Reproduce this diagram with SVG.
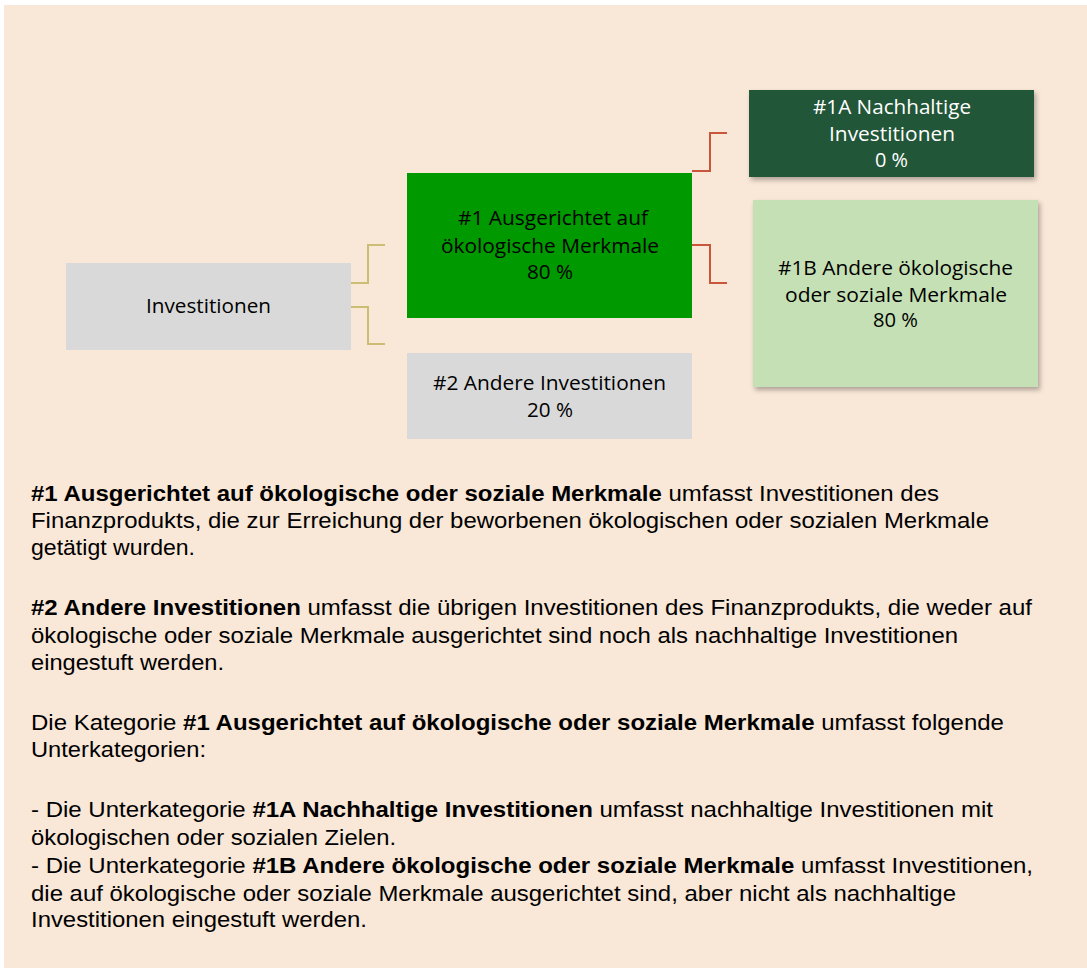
<svg xmlns="http://www.w3.org/2000/svg" width="1087" height="968" viewBox="0 0 1087 968">
<defs>
<style>
.node text{font-family:"Open Sans",Lato,sans-serif;font-size:20px;text-anchor:middle}
.body{font-family:"Liberation Sans",Arial,sans-serif;font-size:22px;fill:#000}
.b{font-weight:bold}
.gold{fill:none;stroke:#cbbd72;stroke-width:2}
.red{fill:none;stroke:#c9553a;stroke-width:2}
</style>
<filter id="sh" x="-10%" y="-10%" width="130%" height="130%">
<feDropShadow dx="2" dy="3" stdDeviation="2.5" flood-color="#000" flood-opacity="0.3"/>
</filter>
</defs>
<rect x="4" y="5" width="1083" height="963" fill="#f9e7d7"/>
<g id="connectors">
<path class="gold" d="M351 283 H368 V245 H385"/>
<path class="gold" d="M351 307 H368 V344 H385"/>
<path class="red" d="M692 171 H710 V133 H727"/>
<path class="red" d="M692 245 H710 V283 H727"/>
</g>
<g id="n0" class="node">
<rect x="66" y="263" width="285" height="87" fill="#d9d9d9"/>
<text x="208.5" y="313" fill="#000" textLength="125" lengthAdjust="spacingAndGlyphs">Investitionen</text>
</g>
<g id="n1" class="node">
<rect x="407" y="173" width="285" height="145" fill="#009900"/>
<text x="553" y="225" fill="#000" textLength="190" lengthAdjust="spacingAndGlyphs">#1 Ausgerichtet auf</text>
<text x="550" y="253" fill="#000" textLength="218" lengthAdjust="spacingAndGlyphs">ökologische Merkmale</text>
<text x="550" y="279" fill="#000" textLength="46" lengthAdjust="spacingAndGlyphs">80 %</text>
</g>
<g id="n2" class="node">
<rect x="407" y="353" width="285" height="86" fill="#d9d9d9"/>
<text x="549.5" y="390" fill="#000" textLength="233" lengthAdjust="spacingAndGlyphs">#2 Andere Investitionen</text>
<text x="550" y="417" fill="#000" textLength="46" lengthAdjust="spacingAndGlyphs">20 %</text>
</g>
<g id="n1a" class="node">
<rect x="749" y="90" width="285" height="87" fill="#235638" filter="url(#sh)"/>
<text x="892" y="114" fill="#fff" textLength="158" lengthAdjust="spacingAndGlyphs">#1A Nachhaltige</text>
<text x="892" y="141" fill="#fff" textLength="126" lengthAdjust="spacingAndGlyphs">Investitionen</text>
<text x="891.5" y="167" fill="#fff" textLength="33" lengthAdjust="spacingAndGlyphs">0 %</text>
</g>
<g id="n1b" class="node">
<rect x="753" y="200" width="285" height="187" fill="#c5e0b4" filter="url(#sh)"/>
<text x="895.5" y="275" fill="#000" textLength="235" lengthAdjust="spacingAndGlyphs">#1B Andere ökologische</text>
<text x="896" y="302" fill="#000" textLength="222" lengthAdjust="spacingAndGlyphs">oder soziale Merkmale</text>
<text x="895.5" y="327" fill="#000" textLength="45" lengthAdjust="spacingAndGlyphs">80 %</text>
</g>
<g id="text">
<text class="body" x="31" y="501" textLength="908" lengthAdjust="spacingAndGlyphs"><tspan class="b">#1 Ausgerichtet auf ökologische oder soziale Merkmale</tspan> umfasst Investitionen des</text>
<text class="body" x="31" y="528" textLength="958" lengthAdjust="spacingAndGlyphs">Finanzprodukts, die zur Erreichung der beworbenen ökologischen oder sozialen Merkmale</text>
<text class="body" x="31" y="555" textLength="164" lengthAdjust="spacingAndGlyphs">getätigt wurden.</text>
<text class="body" x="31" y="615" textLength="1001" lengthAdjust="spacingAndGlyphs"><tspan class="b">#2 Andere Investitionen</tspan> umfasst die übrigen Investitionen des Finanzprodukts, die weder auf</text>
<text class="body" x="31" y="643" textLength="927" lengthAdjust="spacingAndGlyphs">ökologische oder soziale Merkmale ausgerichtet sind noch als nachhaltige Investitionen</text>
<text class="body" x="31" y="670" textLength="193" lengthAdjust="spacingAndGlyphs">eingestuft werden.</text>
<text class="body" x="31" y="730" textLength="973" lengthAdjust="spacingAndGlyphs">Die Kategorie <tspan class="b">#1 Ausgerichtet auf ökologische oder soziale Merkmale</tspan> umfasst folgende</text>
<text class="body" x="31" y="757" textLength="175" lengthAdjust="spacingAndGlyphs">Unterkategorien:</text>
<text class="body" x="31" y="817" textLength="962" lengthAdjust="spacingAndGlyphs">- Die Unterkategorie <tspan class="b">#1A Nachhaltige Investitionen</tspan> umfasst nachhaltige Investitionen mit</text>
<text class="body" x="31" y="845" textLength="365" lengthAdjust="spacingAndGlyphs">ökologischen oder sozialen Zielen.</text>
<text class="body" x="31" y="873" textLength="1002" lengthAdjust="spacingAndGlyphs">- Die Unterkategorie <tspan class="b">#1B Andere ökologische oder soziale Merkmale</tspan> umfasst Investitionen,</text>
<text class="body" x="31" y="901" textLength="925" lengthAdjust="spacingAndGlyphs">die auf ökologische oder soziale Merkmale ausgerichtet sind, aber nicht als nachhaltige</text>
<text class="body" x="31" y="927" textLength="336" lengthAdjust="spacingAndGlyphs">Investitionen eingestuft werden.</text>
</g>
</svg>
